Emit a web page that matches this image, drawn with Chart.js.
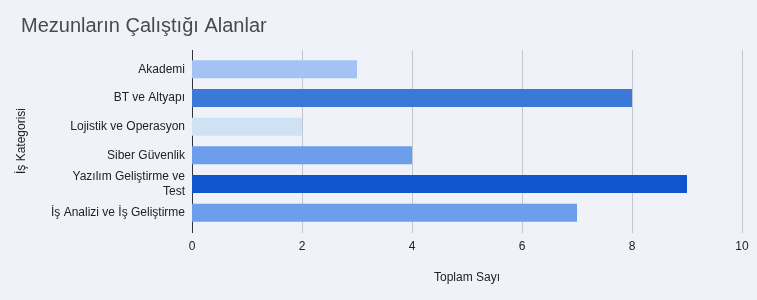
<!DOCTYPE html>
<html><head><meta charset="utf-8">
<script src="https://cdn.jsdelivr.net/npm/chart.js@4/dist/chart.umd.min.js"></script>
<style>html,body{margin:0;padding:0;background:#eff2f8;}#wrap{width:757px;height:300px;}</style>
</head><body><div id="wrap"><canvas id="c" width="757" height="300"></canvas></div>
<script>
const categories = ["Akademi", "BT ve Altyapı", "Lojistik ve Operasyon", "Siber Güvenlik", ["Yazılım Geliştirme ve", "Test"], "İş Analizi ve İş Geliştirme"];
const values = [3, 8, 2, 4, 9, 7];
const barColors = ["#a4c2f4", "#3c78d8", "#cfe2f3", "#6d9eeb", "#1155cc", "#6d9eeb"];
const xTicks = [0, 2, 4, 6, 8, 10];

const FONT = "'Liberation Sans', Arial, sans-serif";

const bgPlugin = {
  id: 'bg',
  beforeDraw(chart) {
    const ctx = chart.ctx;
    ctx.save(); ctx.fillStyle = '#eff2f8'; ctx.fillRect(0, 0, chart.width, chart.height); ctx.restore();
  },
  afterLayout(chart) {
    if (chart.titleBlock) { chart.titleBlock.left += 7; chart.titleBlock.right += 7; }
  },
  beforeDatasetsDraw(chart) {
    const ctx = chart.ctx, x = chart.scales.x, a = chart.chartArea;
    ctx.save();
    ctx.lineWidth = 1;
    xTicks.forEach(v => {
      const px = Math.round(x.getPixelForValue(v)) + 0.5;
      ctx.strokeStyle = v === 0 ? '#333333' : '#c3c6cc';
      ctx.beginPath(); ctx.moveTo(px, a.top - 5); ctx.lineTo(px, a.bottom + 6); ctx.stroke();
    });
    ctx.restore();
  }
};

new Chart(document.getElementById('c'), {
  type: 'bar',
  data: { labels: categories, datasets: [{ data: values, backgroundColor: barColors, barPercentage: 0.63, categoryPercentage: 1 }] },
  options: {
    indexAxis: 'y', responsive: false, animation: false,
    layout: { padding: { left: 14, right: 15, top: 0, bottom: 15 } },
    plugins: {
      legend: { display: false }, tooltip: { enabled: false },
      title: { display: true, text: 'Mezunların Çalıştığı Alanlar', align: 'start', color: '#4a4a4a',
        font: { family: FONT, size: 20, weight: 'normal' }, padding: { top: 14, bottom: 17 } }
    },
    scales: {
      x: { min: 0, max: 10, grid: { display: false, drawTicks: false }, border: { display: false },
        afterBuildTicks(s) { s.ticks = xTicks.map(v => ({ value: v })); },
        afterFit(s) { s.height = 58; s.paddingRight = 0; s.paddingLeft = 0; },
        ticks: { color: '#222222', font: { family: FONT, size: 12 }, padding: 12, maxRotation: 0 },
        title: { display: true, text: 'Toplam Sayı', color: '#222222', font: { family: FONT, size: 12 }, padding: { top: 17, bottom: 0 } } },
      y: { grid: { display: false, drawTicks: false }, border: { display: false },
        afterFit(s) { s.width = 178; },
        ticks: { color: '#222222', font: { family: FONT, size: 12 }, padding: 7, autoSkip: false },
        title: { display: true, text: 'İş Kategorisi', color: '#222222', font: { family: FONT, size: 12 }, padding: 0 } }
    }
  },
  plugins: [bgPlugin]
});
</script></body></html>
